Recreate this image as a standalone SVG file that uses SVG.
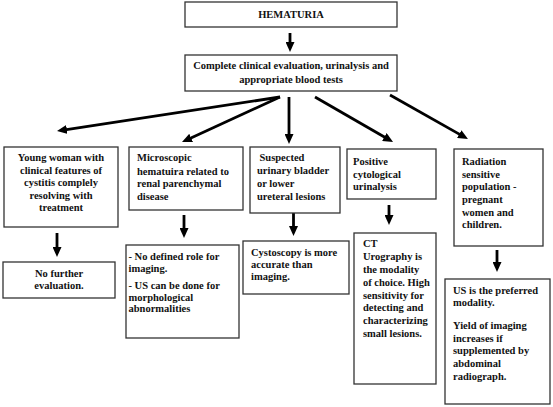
<svg xmlns="http://www.w3.org/2000/svg" width="553" height="407" viewBox="0 0 553 407">
<style>
.box{fill:#fff;stroke:#333;stroke-width:1.3}
text{font-family:"Liberation Serif","Times New Roman",serif;font-weight:bold;font-size:10.5px;fill:#111}
.c{text-anchor:middle}
.arr{stroke:#000;stroke-width:2.8;fill:none;marker-end:url(#ah)}
</style>
<defs>
<marker id="ah" markerUnits="userSpaceOnUse" markerWidth="10" markerHeight="9" refX="2" refY="4.5" orient="auto">
<path d="M0,0 L10,4.5 L0,9 z" fill="#000"/>
</marker>
</defs>
<rect width="553" height="407" fill="#fff"/>
<g id="connectors">
<line class="arr" x1="290" y1="33" x2="290" y2="44"/>
<line class="arr" x1="280" y1="97" x2="64.9" y2="129.8"/>
<line class="arr" x1="280" y1="97" x2="189.3" y2="138.7"/>
<line class="arr" x1="289" y1="97" x2="289" y2="136"/>
<line class="arr" x1="315" y1="97" x2="386.1" y2="138"/>
<line class="arr" x1="390" y1="95" x2="461" y2="135.1"/>
<line class="arr" x1="57" y1="233" x2="57" y2="249"/>
<line class="arr" x1="184" y1="215" x2="184" y2="230"/>
<line class="arr" x1="293.5" y1="213" x2="293.5" y2="228"/>
<line class="arr" x1="389" y1="205" x2="389" y2="217"/>
<line class="arr" x1="497" y1="250" x2="497" y2="264"/>
</g>
<g id="hematuria">
<rect class="box" x="185" y="2" width="212" height="25"/>
<text class="c" x="291" y="18">HEMATURIA</text>
</g>
<g id="evaluation">
<rect class="box" x="185" y="55" width="212" height="36"/>
<text class="c" x="291" y="69">Complete clinical evaluation, urinalysis and</text>
<text class="c" x="291" y="83">appropriate blood tests</text>
</g>
<g id="young-woman">
<rect class="box" x="4" y="147" width="114" height="80"/>
<text class="c" x="61" y="160.5">Young woman with</text>
<text class="c" x="61" y="173.5">clinical features of</text>
<text class="c" x="61" y="186">cystitis complely</text>
<text class="c" x="61" y="198.5">resolving with</text>
<text class="c" x="61" y="211">treatment</text>
</g>
<g id="microscopic">
<rect class="box" x="129" y="147" width="114" height="63"/>
<text x="137" y="161">Microscopic</text>
<text x="137" y="175">hematuira related to</text>
<text x="137" y="187">renal parenchymal</text>
<text x="137" y="200">disease</text>
</g>
<g id="suspected">
<rect class="box" x="250" y="147" width="90" height="66"/>
<text x="259.5" y="160.5">Suspected</text>
<text x="257" y="174">urinary bladder</text>
<text x="257" y="187">or lower</text>
<text x="257" y="199.5">ureteral lesions</text>
</g>
<g id="positive">
<rect class="box" x="347" y="149" width="89" height="50"/>
<text x="353" y="165">Positive</text>
<text x="353" y="177.5">cytological</text>
<text x="353" y="190">urinalysis</text>
</g>
<g id="radiation">
<rect class="box" x="454" y="149" width="89" height="97"/>
<text x="462" y="165">Radiation</text>
<text x="462" y="177.5">sensitive</text>
<text x="462" y="190">population -</text>
<text x="462" y="203">pregnant</text>
<text x="462" y="216">women and</text>
<text x="462" y="228">children.</text>
</g>
<g id="no-further">
<rect class="box" x="3" y="262" width="112" height="36"/>
<text class="c" x="59" y="277">No further</text>
<text class="c" x="59" y="289">evaluation.</text>
</g>
<g id="no-defined">
<rect class="box" x="126" y="245" width="113" height="93"/>
<text x="128.5" y="260">- No defined role for</text>
<text x="128.5" y="272">imaging.</text>
<text x="128.5" y="289">- US can be done for</text>
<text x="128.5" y="301">morphological</text>
<text x="128.5" y="312">abnormalities</text>
</g>
<g id="cystoscopy">
<rect class="box" x="243" y="241" width="106" height="53"/>
<text x="251" y="256">Cystoscopy is more</text>
<text x="251" y="268">accurate than</text>
<text x="251" y="280">imaging.</text>
</g>
<g id="ct">
<rect class="box" x="354" y="233" width="82" height="151"/>
<text x="363" y="247">CT</text>
<text x="363" y="260">Urography is</text>
<text x="363" y="273">the modality</text>
<text x="363" y="285.5">of choice. High</text>
<text x="363" y="298.5">sensitivity for</text>
<text x="363" y="311">detecting and</text>
<text x="363" y="324">characterizing</text>
<text x="363" y="336.5">small lesions.</text>
</g>
<g id="us">
<rect class="box" x="445" y="279" width="105" height="125"/>
<text x="453" y="294">US is the preferred</text>
<text x="453" y="306">modality.</text>
<text x="453" y="329">Yield of imaging</text>
<text x="453" y="341.5">increases if</text>
<text x="453" y="354">supplemented by</text>
<text x="453" y="367">abdominal</text>
<text x="453" y="380">radiograph.</text>
</g>
</svg>
